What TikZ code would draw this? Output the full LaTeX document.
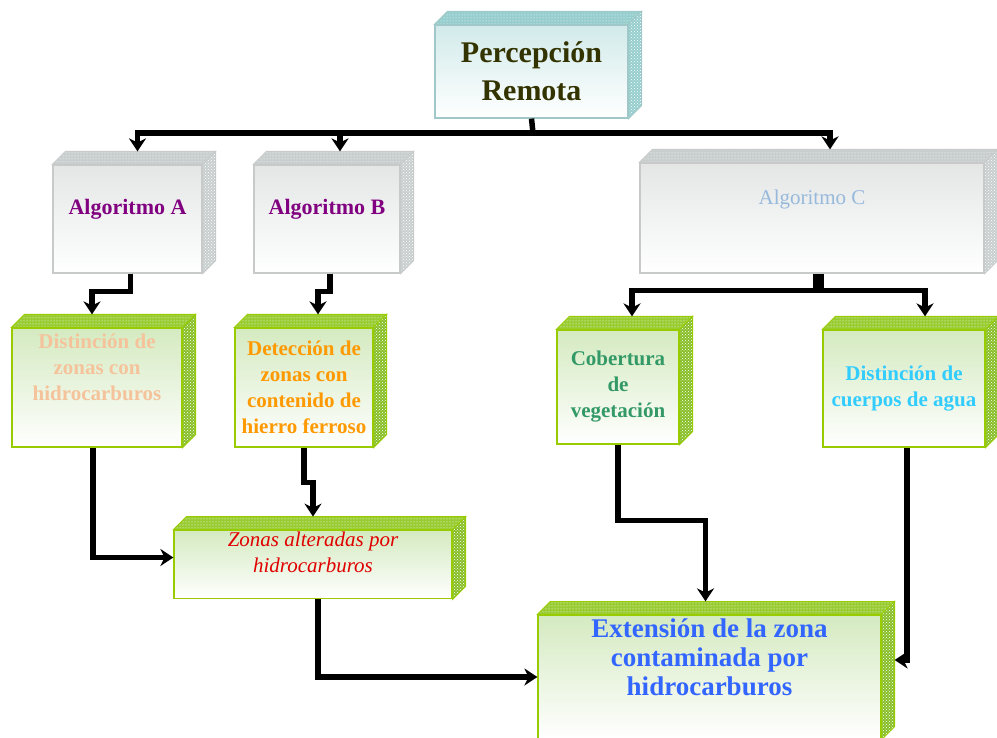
\documentclass[tikz,border=0pt]{standalone}
\usepackage{fontspec}
\setmainfont{Liberation Serif}
\usetikzlibrary{arrows.meta, calc, patterns}
\definecolor{sensface}{RGB}{210,234,234}
\definecolor{senstop}{RGB}{150,205,205}
\definecolor{sensline}{RGB}{160,200,200}
\definecolor{algface}{RGB}{228,230,230}
\definecolor{algtop}{RGB}{200,206,206}
\definecolor{algline}{RGB}{200,202,202}
\definecolor{resface}{RGB}{212,234,192}
\definecolor{restop}{RGB}{153,204,51}
\definecolor{resside}{RGB}{136,190,40}
\definecolor{resline}{RGB}{153,204,0}
\definecolor{perctext}{RGB}{51,51,0}
\definecolor{algtext}{RGB}{128,0,128}
\definecolor{algctext}{RGB}{150,185,220}
\definecolor{hctext}{RGB}{245,195,155}
\definecolor{fetext}{RGB}{255,153,0}
\definecolor{vegtext}{RGB}{51,153,102}
\definecolor{aguatext}{RGB}{51,204,255}
\definecolor{alttext}{RGB}{225,0,0}
\definecolor{exttext}{RGB}{51,102,255}
\newcommand{\dep}{13pt}
\tikzset{
    cube/.style n args={3}{
        append after command={\pgfextra{
            \draw[draw=#1, line width=0.8pt, preaction={fill=#2}, pattern=dots, pattern color=white]
                (\tikzlastnode.north west) -- ([xshift=\dep,yshift=\dep]\tikzlastnode.north west)
                -- ([xshift=\dep,yshift=\dep]\tikzlastnode.north east) -- (\tikzlastnode.north east) -- cycle;
            \draw[draw=#1, line width=0.8pt, preaction={fill=#3}, pattern=crosshatch dots, pattern color=white]
                (\tikzlastnode.north east) -- ([xshift=\dep,yshift=\dep]\tikzlastnode.north east)
                -- ([xshift=\dep,yshift=\dep]\tikzlastnode.south east) -- (\tikzlastnode.south east) -- cycle;
        }}
    },
    sensor/.style={
        rectangle, draw=sensline, line width=1.2pt, top color=sensface, bottom color=white,
        align=center, inner sep=2pt, text=perctext,
        font=\bfseries\fontsize{30}{38}\selectfont, cube={sensline}{senstop}{senstop}
    },
    algbox/.style={
        rectangle, draw=algline, line width=1.2pt, top color=algface, bottom color=white,
        align=center, inner sep=2pt, text=algtext,
        font=\bfseries\fontsize{22}{26}\selectfont, cube={algline}{algtop}{algtop}
    },
    resbox/.style={
        rectangle, draw=resline, line width=1.2pt, top color=resface, bottom color=white,
        align=center, inner sep=2pt,
        font=\bfseries\fontsize{21}{26}\selectfont, cube={resline}{restop}{resside}
    },
    arrow/.style={-{Stealth[length=13pt, width=17pt]}, line width=5.5pt},
    wire/.style={line width=5.5pt}
}
\begin{document}
\begin{tikzpicture}[x=1pt, y=-1pt]
\useasboundingbox (0,0) rectangle (997,738);
\clip (0,0) rectangle (997,738);

% Source
\node[sensor, minimum width=193pt, minimum height=93pt] (perc) at (531.5,71.5) {Percepción\\Remota};

% Algorithms
\node[algbox, minimum width=149pt, minimum height=108pt, text depth=24pt] (algA) at (127.5,219) {Algoritmo A};
\node[algbox, minimum width=146pt, minimum height=108pt, text depth=24pt] (algB) at (327,219) {Algoritmo B};
\node[algbox, minimum width=344pt, minimum height=110pt, text depth=42pt, text=algctext, font=\fontsize{21}{25}\selectfont] (algC) at (812,218) {Algoritmo C};

% Products
\node[resbox, minimum width=170pt, minimum height=119pt, text depth=40pt, text=hctext] (hidro) at (97,387.5) {Distinción de\\zonas con\\hidrocarburos};
\node[resbox, minimum width=138pt, minimum height=119pt, text=fetext] (hierro) at (304,387.5) {Detección de\\zonas con\\contenido de\\hierro ferroso};
\node[resbox, minimum width=122pt, minimum height=114pt, text=vegtext] (veg) at (618,387) {Cobertura\\de\\vegetación};
\node[resbox, minimum width=162pt, minimum height=117pt, text=aguatext] (agua) at (904,388.5) {Distinción de\\cuerpos de agua};

% Results
\node[resbox, minimum width=278pt, minimum height=65pt, text depth=24pt, text=alttext, font=\itshape\fontsize{21}{26}\selectfont] (alter) at (313,564.5) {Zonas alteradas por\\hidrocarburos};
\node[resbox, minimum width=343pt, minimum height=124pt, text depth=40pt, text=exttext, font=\bfseries\fontsize{27}{29}\selectfont] (ext) at (709.5,677) {Extensión de la zona\\contaminada por\\hidrocarburos};

% Top bus
\coordinate (tbus) at (533,133);
\draw[wire] (perc.south) -- (tbus);
\draw[arrow] (tbus) -| ([xshift=10pt,yshift=\dep]algA.north);
\draw[arrow] (tbus) -| ([xshift=13pt,yshift=\dep]algB.north);
\draw[arrow] (tbus) -| ([xshift=18pt,yshift=\dep]algC.north);

% Algorithms to products
\draw[arrow] ([xshift=3pt]algA.south) -- ++(0,18) -| ([xshift=-5pt,yshift=\dep]hidro.north);
\draw[arrow] ([xshift=3pt]algB.south) -- ++(0,18) -| ([xshift=14pt,yshift=\dep]hierro.north);
\draw[line width=11pt] ([xshift=6pt]algC.south) -- ++(0,17) coordinate (cbus);
\draw[arrow] (cbus) -| ([xshift=14pt,yshift=\dep]veg.north);
\draw[arrow] (cbus) -| ([xshift=21pt,yshift=\dep]agua.north);

% Products to results
\draw[arrow] ([xshift=-4pt]hidro.south) |- ([yshift=7pt]alter.west);
\draw[arrow] (hierro.south) -- ++(0,35) -| ([yshift=\dep]alter.north);
\draw[arrow] ([xshift=5pt]alter.south) |- (ext.west);
\draw[arrow] (veg.south) -- ++(0,76) -| ([xshift=-4pt,yshift=\dep]ext.north);
\draw[arrow] ([xshift=3pt]agua.south) |- ([xshift=\dep,yshift=17pt]ext.east);

\end{tikzpicture}
\end{document}
